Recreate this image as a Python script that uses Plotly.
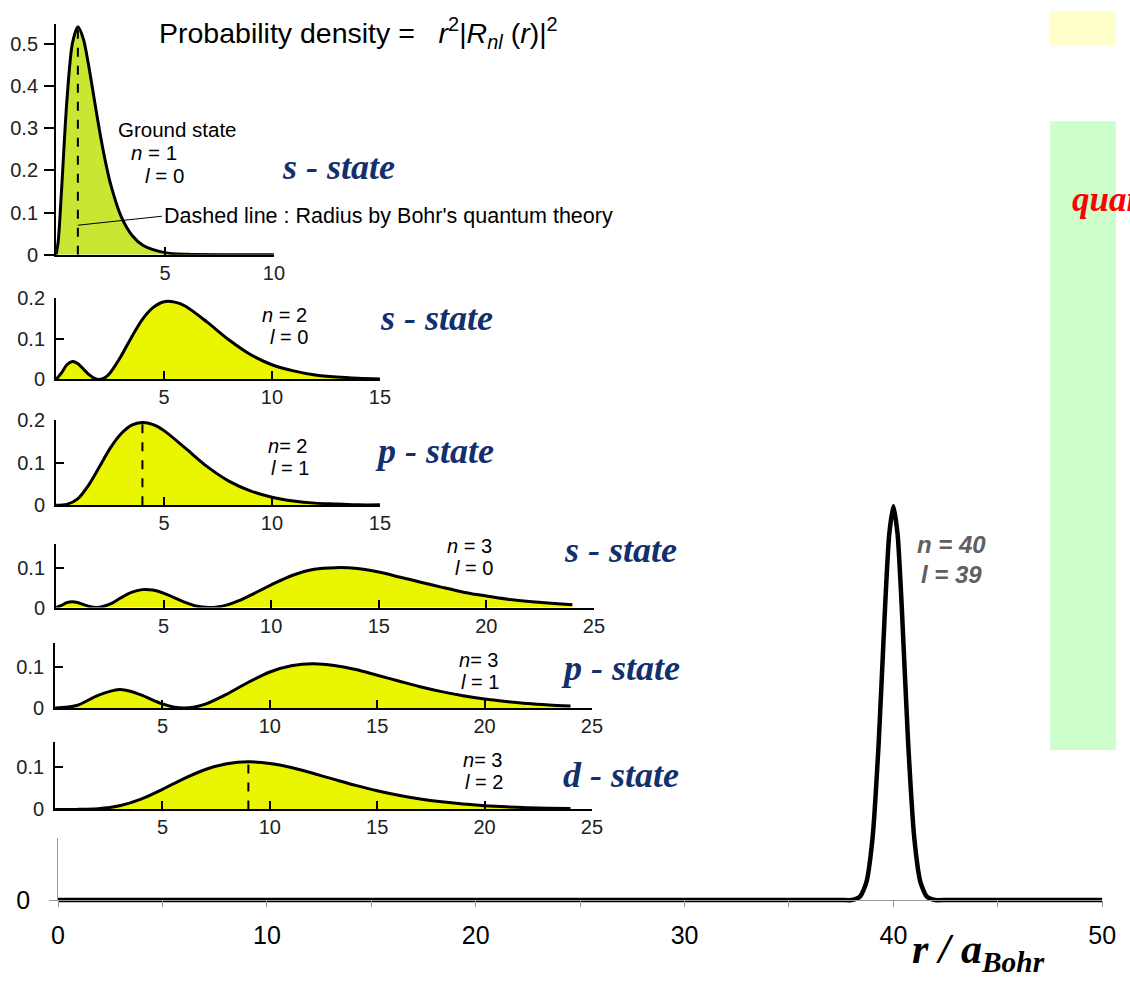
import plotly.graph_objects as go

W, H = 1130, 994

# ---------------- data ----------------
r_1s = [0, 0.1, 0.25, 0.5, 0.75, 1.0, 1.25, 1.5, 1.75, 2.0, 2.25, 2.5, 3.0, 3.5, 4.0, 5.0, 6.0, 8.0, 10.0]
p_1s = [0, 0.033, 0.152, 0.368, 0.502, 0.541, 0.513, 0.448, 0.370, 0.293, 0.225, 0.168, 0.089, 0.045, 0.022, 0.005, 0.001, 0, 0]

r_2s = [0, 0.25, 0.5, 0.76, 1.0, 1.5, 1.75, 2.0, 2.25, 2.5, 3.0, 3.5, 4.0, 4.5, 5.0, 5.5, 6.0, 7.0, 8.0, 9.0, 10.0, 11.0, 12.0, 13.0, 14.0, 15.0]
p_2s = [0, 0.016, 0.036, 0.044, 0.039, 0.013, 0.0035, 0, 0.004, 0.016, 0.056, 0.104, 0.147, 0.176, 0.190, 0.189, 0.179, 0.140, 0.097, 0.061, 0.036, 0.021, 0.011, 0.006, 0.003, 0.001]

r_2p = [0, 0.5, 1, 1.5, 2, 2.5, 3, 3.5, 4, 4.5, 5, 6, 7, 8, 9, 10, 11, 12, 13, 14, 15]
p_2p = [0, 0.002, 0.015, 0.047, 0.090, 0.134, 0.168, 0.189, 0.195, 0.190, 0.176, 0.134, 0.091, 0.057, 0.034, 0.019, 0.010, 0.005, 0.003, 0.001, 0.001]

r_3s = [0, 0.25, 0.5, 0.75, 1.0, 1.25, 1.5, 1.9, 2.5, 3.0, 3.5, 4.0, 4.5, 5.0, 6.0, 6.5, 7.1, 7.5, 8.0, 8.5, 9, 10, 11, 12, 13, 14, 15, 16, 17, 18, 19, 20, 21, 22, 23, 24]
p_3s = [0, 0.0055, 0.0124, 0.0148, 0.0126, 0.008, 0.0034, 0, 0.0086, 0.024, 0.038, 0.045, 0.044, 0.036, 0.013, 0.004, 0, 0.0016, 0.0076, 0.0174, 0.030, 0.057, 0.081, 0.096, 0.100, 0.098, 0.089, 0.076, 0.063, 0.050, 0.038, 0.029, 0.021, 0.015, 0.011, 0.007]

r_3p = [0, 1, 2, 3, 3.5, 4, 5, 5.5, 6, 6.5, 7, 8, 9, 10, 11, 12, 13, 14, 15, 16, 17, 18, 19, 20, 21, 22, 23, 24]
p_3p = [0, 0.006, 0.031, 0.045, 0.041, 0.032, 0.010, 0.0027, 0, 0.0025, 0.0095, 0.034, 0.063, 0.088, 0.103, 0.108, 0.104, 0.094, 0.080, 0.066, 0.052, 0.040, 0.030, 0.022, 0.016, 0.011, 0.0076, 0.0052]

r_3d = [0, 1, 2, 3, 4, 5, 6, 7, 8, 9, 10, 11, 12, 13, 14, 15, 16, 17, 18, 19, 20, 21, 22, 23, 24]
p_3d = [0, 0, 0.0015, 0.0085, 0.0245, 0.048, 0.0736, 0.0953, 0.109, 0.1135, 0.1094, 0.0999, 0.0862, 0.0716, 0.0573, 0.0445, 0.0337, 0.0249, 0.018, 0.0128, 0.0089, 0.0061, 0.0042, 0.0028, 0.0019]

r_40 = [0, 10, 20, 30, 36, 37, 37.5, 38.0, 38.4, 38.7, 39.0, 39.3, 39.6, 39.8, 40.0, 40.2, 40.4, 40.7, 41.0, 41.3, 41.6, 42.0, 42.5, 43, 44, 50]
p_40 = [0, 0, 0, 0, 0, 0, 0, 0, 0.0088, 0.044, 0.157, 0.404, 0.744, 0.929, 1.0, 0.929, 0.744, 0.404, 0.157, 0.044, 0.0088, 0, 0, 0, 0, 0]

bohr_r = [1, 4, 9]          # dashed lines (1s, 2p, 3d)
bohr_p = [0.54, 0.195, 0.1135]

main_xticks = [0, 10, 20, 30, 40, 50]
main_minor = [5, 15, 25, 35, 45]

# ---------------- helpers ----------------
def fx(p):
    return p / W

def fy(p):
    return 1 - p / H

SANS = "Liberation Sans"
SERIF = "Liberation Serif"
FILL1 = "#C8E632"
FILL = "#EAF600"
NAVY = "#13306E"

fig = go.Figure()

insets = [
    # n, r, p, fill, xdom(px), ydom(top,bottom px), xrange, yrange, xticks, yticks, ytick side
    (2, r_1s, p_1s, FILL1, (50, 272), (13, 250), [0, 10], [0, 0.5486], [5, 10], [0, 0.1, 0.2, 0.3, 0.4, 0.5], "outside"),
    (3, r_2s, p_2s, FILL, (50, 380), (294, 378), [0, 15], [0, 0.2], [5, 10, 15], [0, 0.1, 0.2], "inside"),
    (4, r_2p, p_2p, FILL, (50, 380), (420, 507), [0, 15], [0, 0.2], [5, 10, 15], [0, 0.1, 0.2], "inside"),
    (5, r_3s, p_3s, FILL, (50, 598), (547, 612), [0, 25], [0, 0.1585], [5, 10, 15, 20, 25], [0, 0.1], "inside"),
    (6, r_3p, p_3p, FILL, (49, 596), (648, 715), [0, 25], [0, 0.1595], [5, 10, 15, 20, 25], [0, 0.1], "inside"),
    (7, r_3d, p_3d, FILL, (49, 596), (750, 819), [0, 25], [0, 0.1605], [5, 10, 15, 20, 25], [0, 0.1], "inside"),
]

layout_axes = {}
for n, rr, pp, col, xd, yd, xr, yr, xt, yt, yside in insets:
    fig.add_trace(go.Scatter(
        x=rr, y=pp, mode="lines", xaxis=f"x{n}", yaxis=f"y{n}",
        line=dict(color="black", width=3, shape="spline", smoothing=0.8),
        fill="tozeroy", fillcolor=col, hoverinfo="skip"))
    common = dict(showline=True, linecolor="black", linewidth=2,
                  tickwidth=1.5, tickcolor="black", showgrid=False,
                  zeroline=False, tickfont=dict(family=SANS, size=20, color="#222"))
    layout_axes[f"xaxis{n}"] = dict(domain=[fx(xd[0]), fx(xd[1])], range=xr, ticks="inside", ticklen=8,
                                    anchor=f"y{n}", tickvals=xt, ticklabelstandoff=-1, **common)
    layout_axes[f"yaxis{n}"] = dict(domain=[fy(yd[1]), fy(yd[0])], range=yr, ticks=yside,
                                    ticklen=10 if yside == "outside" else 8,
                                    anchor=f"x{n}", tickvals=yt,
                                    ticklabelstandoff=2 if yside == "outside" else 5, **common)

# dashed Bohr-radius lines
for n, rb, pb in zip([2, 4, 7], bohr_r, bohr_p):
    fig.add_trace(go.Scatter(x=[rb, rb], y=[0, pb], mode="lines",
                             xaxis=f"x{n}", yaxis=f"y{n}",
                             line=dict(color="black", width=2, dash="dash"),
                             hoverinfo="skip"))

# main n=40 curve
fig.add_trace(go.Scatter(x=r_40, y=p_40, mode="lines", xaxis="x", yaxis="y",
                         line=dict(color="black", width=4.5, shape="spline", smoothing=0.6),
                         hoverinfo="skip"))
# empty trace so that the short main y axis is drawn
fig.add_trace(go.Scatter(x=[], y=[], mode="lines", xaxis="x", yaxis="y8", hoverinfo="skip"))

grey = "#999999"
layout_axes["xaxis"] = dict(domain=[fx(52), fx(1116)], range=[0, 50], anchor="y8",
                            showline=True, linecolor=grey, linewidth=1, ticks="outside",
                            ticklen=6, tickcolor=grey, tickvals=main_xticks,
                            minor=dict(tickvals=main_minor, ticks="outside", ticklen=6, tickcolor=grey),
                            showgrid=False, zeroline=False, ticklabelstandoff=7,
                            tickfont=dict(family=SANS, size=25, color="black"))
layout_axes["yaxis"] = dict(domain=[fy(920), fy(500)], range=[-0.02, 1.02], anchor="x",
                            visible=False)
layout_axes["yaxis8"] = dict(domain=[fy(912), fy(848)], range=[0, 1], anchor="x",
                             showline=True, linecolor=grey, linewidth=1, ticks="outside",
                             ticklen=8, tickcolor=grey, tickvals=[0], ticktext=["0"], showgrid=False,
                             zeroline=False, ticklabelstandoff=14,
                             tickfont=dict(family=SANS, size=25, color="black"))

ann = []

def text(x, y, s, size, family=SANS, color="black", xanchor="center", pad=1):
    ann.append(dict(x=fx(x), y=fy(y), xref="paper", yref="paper", text=s, showarrow=False,
                    xanchor=xanchor, yanchor="middle", borderpad=pad,
                    font=dict(family=family, size=size, color=color)))

text(153, 23, "Probability density =   <i>r</i><sup>2</sup>|<i>R<sub>nl</sub></i> (<i>r</i>)|<sup>2</sup>",
     28.5, xanchor="left")
text(174, 122, "Ground state", 20.5, pad=0)
text(150, 145.5, "<i>n</i> = 1", 20.5, pad=0)
text(160, 169, "<i>l</i> = 0", 20.5, pad=0)
# leader line of the dashed-line note
ann.append(dict(x=1, y=0.07, xref="x2", yref="y2", ax=84, ay=-9, axref="pixel", ayref="pixel",
                text="Dashed line : Radius by Bohr's quantum theory", showarrow=True,
                arrowhead=0, arrowwidth=1, arrowcolor="black", xanchor="left", yanchor="middle",
                font=dict(family=SANS, size=21.5, color="black")))

# n / l labels (two lines each)
nl_labels = [
    (283, 287, 323, "<i>n</i> = 2", "<i>l</i> = 0"),
    (286, 288, 457.5, "<i>n</i>= 2", "<i>l</i> = 1"),
    (471, 476, 560, "<i>n</i> = 3", "<i>l</i> = 0"),
    (480, 482, 677, "<i>n</i>= 3", "<i>l</i> = 1"),
    (484, 486, 779.5, "<i>n</i>= 3", "<i>l</i> = 2"),
]
for xn, xl, yc, tn, tl in nl_labels:
    text(xn, yc - 11.5, tn, 20, pad=0)
    text(xl, yc + 11.5, tl, 20, pad=0)

for x, y, s in [(338, 160, "s - state"), (438, 315, "s - state"), (436, 451, "p - state"),
                (625, 553, "s - state"), (625, 674, "p - state"), (626, 784, "d - state")]:
    text(x, y, f"<b><i>{s}</i></b>", 36, family=SERIF, color=NAVY)

text(962, 547, "<b><i>n = 40</i></b>", 24, color="#606060", pad=0)
text(962, 578, "<b><i>l = 39</i></b>", 24, color="#606060", pad=0)

text(990, 965, "<b><i>r / a<sub>Bohr</sub></i></b>", 42, family=SERIF)
text(1083, 193, "<b><i>quantum</i></b>", 35, family=SERIF, color="#FF0000", xanchor="left")

shapes = [
    dict(type="rect", xref="paper", yref="paper", x0=fx(1062), x1=1.0, y0=fy(35), y1=1.0,
         fillcolor="#FFFFCC", line=dict(width=0), layer="below"),
    dict(type="rect", xref="paper", yref="paper", x0=fx(1063), x1=1.0, y0=fy(758), y1=fy(113),
         fillcolor="#CCFFCC", line=dict(width=0), layer="below"),
]

fig.update_layout(width=W, height=H, margin=dict(l=0, r=0, t=0, b=0),
                  paper_bgcolor="white", plot_bgcolor="rgba(0,0,0,0)",
                  showlegend=False, annotations=ann, shapes=shapes, **layout_axes)

fig.write_html("out.html", config={"displayModeBar": False},
               post_script="document.body.style.margin='0px';document.body.style.overflow='hidden';")
